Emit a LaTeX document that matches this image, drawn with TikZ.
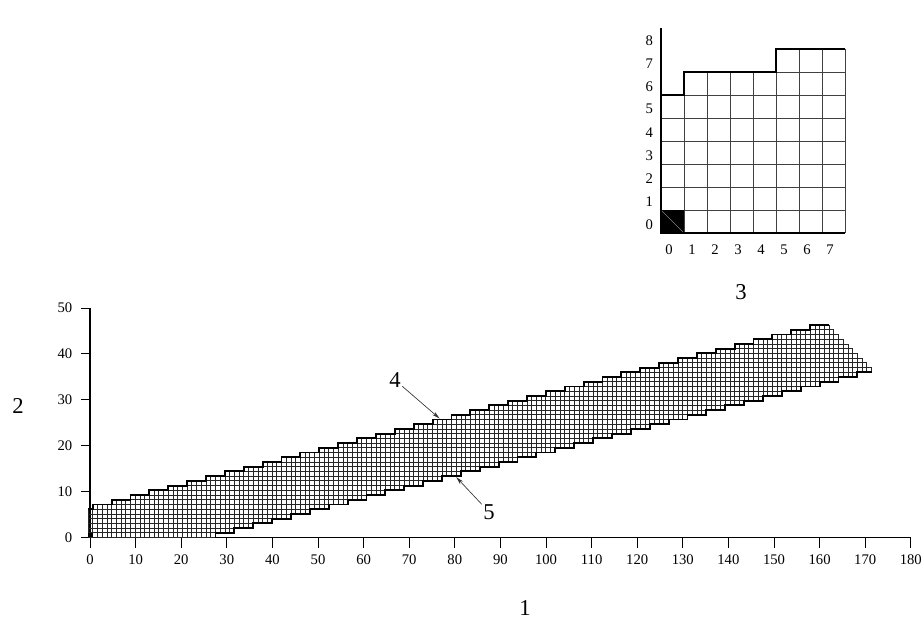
\documentclass[tikz,border=0pt]{standalone}
\usepackage{fontspec}
\setmainfont{Liberation Serif}
\usetikzlibrary{arrows.meta, positioning, calc}

\begin{document}
\begin{tikzpicture}[x=0.75pt, y=0.75pt,
  axisline/.style={line width=1.1pt},
  cellgrid/.style={line width=0.5pt, black!75},
  bandgrid/.style={line width=0.55pt, black!85},
  bound/.style={line width=1.4pt, line join=miter},
  ticklab/.style={font=\fontsize{11}{13}\selectfont, inner sep=1pt},
  biglab/.style={font=\fontsize{17}{20}\selectfont, inner sep=1pt},
  pointer/.style={-{Stealth[length=6pt, width=3pt]}, line width=0.5pt, black!80}]
  \useasboundingbox (0,0) rectangle (923,623);

  % Main plot: axes and ticks
  \coordinate (O) at (90,85.5);
  \begin{scope}[shift={(O)}, x=3.42pt, y=3.4425pt]
    \draw[axisline] (0,50) -- (0,0) -- (180,0);
    \foreach \t in {0,10,...,180}
      \draw[line width=0.6pt] (\t,0) -- ++(0,-8pt) node[ticklab, below=3.5pt] (xt\t) {\t};
    \foreach \t in {0,10,...,50}
      \draw[line width=0.6pt] (0,\t) -- ++(-7pt,0) node[ticklab, left=5pt] (yt\t) {\t};
  \end{scope}

  % Main plot: band of cells
  \begin{scope}[shift={(88,85.5)}, x=3.54pt, y=3.54pt]
    \foreach \c in {0,...,165} {
      \pgfmathtruncatemacro{\colhi}{\c==0 ? 6 : (\c<157 ? 7+floor((\c-1)/4) : 201-\c)}
      \pgfmathtruncatemacro{\collo}{\c<27 ? 0 : 1+floor((\c-27)/4)}
      \draw[bandgrid, step=1] (\c,\collo) grid (\c+1.01,\colhi+0.01);
    }
    \fill (0,0) rectangle (1,1);
    % upper boundary
    \draw[bound] (0,6) -- (1,6)
      \foreach \k in {0,...,38} { -- ({1+4*\k},{7+\k}) -- ({5+4*\k},{7+\k}) };
    % lower boundary
    \draw[bound] (27,0)
      \foreach \k in {0,...,33} { -- ({27+4*\k},{1+\k}) -- ({31+4*\k},{1+\k}) }
      -- (163,35) -- (166,35);
    \coordinate (p4) at (74.5,25.2);
    \coordinate (p5) at (78,12.8);
  \end{scope}

  % Inset: the first cells enlarged
  \begin{scope}[shift={(661,390)}, x=17.25pt, y=17.25pt]
    \foreach \c/\h in {0/6,1/7,2/7,3/7,4/7,5/8,6/8,7/8}
      \draw[cellgrid, step=1] (\c,0) grid (\c+1.01,\h+0.01);
    \fill (0,0) rectangle (1,1);
    \draw[black!50, line width=0.4pt] (0,1) -- (1,0);
    \draw[axisline] (0,8.9) -- (0,0) -- (8,0);
    \draw[bound] (0,6) -- (1,6) -- (1,7) -- (5,7) -- (5,8) -- (8,8);
    \foreach \k in {0,...,7}
      \node[ticklab] (ix\k) at (\k+0.35,-0.72) {\k};
    \foreach \k in {0,...,8}
      \node[ticklab] (iy\k) at (-0.51,\k+0.38) {\k};
  \end{scope}

  % Labels
  \node[biglab] (lab1) at (525,15) {1};
  \node[biglab] (lab2) at (18,217) {2};
  \node[biglab] (lab3) at (741,331) {3};
  \node[biglab] (lab4) at (395,243) {4};
  \node[biglab] (lab5) at (489,111) {5};
  \draw[pointer] (lab4) -- (p4);
  \draw[pointer] (lab5) -- (p5);
\end{tikzpicture}
\end{document}
